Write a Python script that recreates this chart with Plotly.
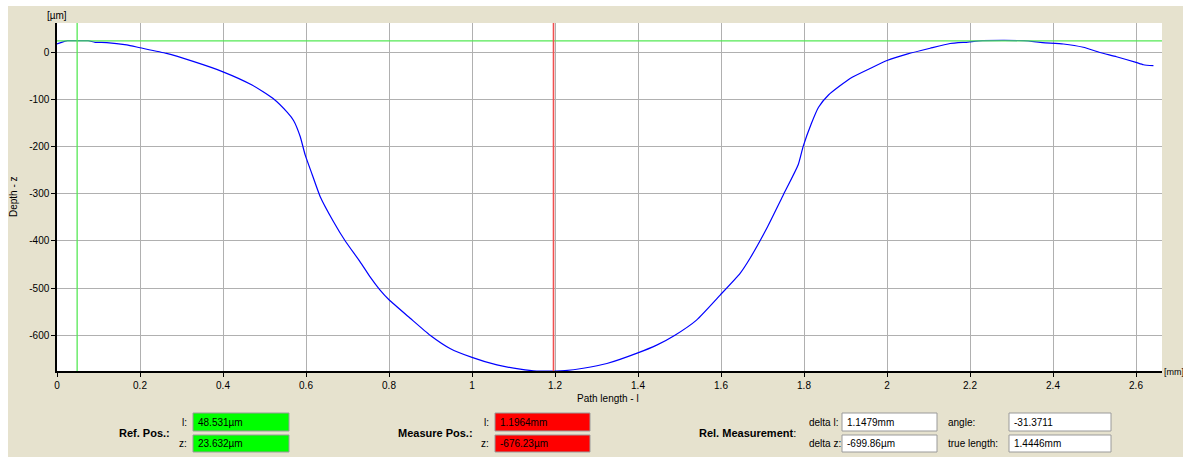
import plotly.graph_objects as go

# ---- data ----
path_length_mm = [0, 0.011, 0.025, 0.05, 0.075, 0.092, 0.12, 0.168, 0.2, 0.264, 0.328, 0.4,
                  0.47, 0.52, 0.555, 0.57, 0.586, 0.598, 0.615, 0.634, 0.666, 0.695, 0.73,
                  0.754, 0.778, 0.8, 0.851, 0.899, 0.947, 1.0, 1.06, 1.116, 1.156, 1.2, 1.224,
                  1.268, 1.325, 1.398, 1.445, 1.489, 1.541, 1.598, 1.646, 1.67, 1.71, 1.75,
                  1.786, 1.798, 1.818, 1.835, 1.859, 1.911, 1.959, 2.0, 2.05, 2.104, 2.152,
                  2.195, 2.23, 2.33, 2.375, 2.425, 2.473, 2.513, 2.553, 2.6, 2.618, 2.642]
depth_um = [17, 20.5, 24, 24, 24, 20.5, 20, 15, 9, -3, -20, -42,
            -70, -98, -128, -145, -179, -218, -260, -306, -359, -401, -444,
            -476, -504, -525, -564, -600, -628, -647, -663, -672, -676, -676, -675,
            -670, -660, -638, -621, -600, -568, -515, -469, -437, -374, -303,
            -239, -200, -151, -117, -91, -56, -35, -18, -4, 8, 18,
            21, 24, 24, 20, 17, 10, -1, -10, -22, -27, -29]

ref_l_mm = 0.048531
ref_z_um = 23.632
meas_l_mm = 1.1964

x_ticks = [0, 0.2, 0.4, 0.6, 0.8, 1, 1.2, 1.4, 1.6, 1.8, 2, 2.2, 2.4, 2.6]
x_tick_labels = ["0", "0.2", "0.4", "0.6", "0.8", "1", "1.2", "1.4", "1.6", "1.8", "2", "2.2", "2.4", "2.6"]
y_ticks = [0, -100, -200, -300, -400, -500, -600]
y_tick_labels = ["0", "-100", "-200", "-300", "-400", "-500", "-600"]

ref_fields = [("l:", "48.531µm"), ("z:", "23.632µm")]
meas_fields = [("l:", "1.1964mm"), ("z:", "-676.23µm")]
rel_fields_a = [("delta l:", "1.1479mm"), ("delta z:", "-699.86µm")]
rel_fields_b = [("angle:", "-31.3711"), ("true length:", "1.4446mm")]

# ---- layout geometry ----
W, H = 1183, 457
L, R, T, B = 57, 1162, 23, 371
BEIGE = "#E6E2CE"
FONT = "Liberation Sans"


def px(x):
    return (x - L) / (R - L)


def py(y):
    return (B - y) / (B - T)


fig = go.Figure()
fig.add_trace(go.Scatter(x=path_length_mm, y=depth_um, mode="lines",
                         line=dict(color="#0000FF", width=1.2, shape="spline", smoothing=0.5),
                         hoverinfo="skip", showlegend=False))

shapes = [
    dict(type="rect", xref="paper", yref="paper", x0=px(8), x1=px(W + 2), y0=py(H + 2), y1=py(6),
         fillcolor=BEIGE, line=dict(width=0), layer="below"),
    dict(type="rect", xref="paper", yref="paper", x0=0, x1=1, y0=0, y1=1,
         fillcolor="white", line=dict(width=0), layer="below"),
    # reference lines
    dict(type="line", xref="paper", yref="y", x0=0, x1=1, y0=ref_z_um, y1=ref_z_um,
         line=dict(color="#55E855", width=1.3)),
    dict(type="line", xref="x", yref="paper", x0=ref_l_mm, x1=ref_l_mm, y0=0, y1=1,
         line=dict(color="#55E855", width=1.3)),
    dict(type="line", xref="x", yref="paper", x0=meas_l_mm, x1=meas_l_mm, y0=0, y1=1,
         line=dict(color="#F05050", width=1.6)),
]

annotations = [
    dict(text="[µm]", x=px(57), y=py(16), xanchor="center", yanchor="middle"),
    dict(text="[mm]", x=px(1162), y=py(372), xanchor="left", yanchor="middle",
         font=dict(size=9, family=FONT, color="black")),
    dict(text="Depth - z", x=px(13), y=py(197), xanchor="center", yanchor="middle", textangle=-90),
    dict(text="Path length - l", x=px(608), y=py(398), xanchor="center", yanchor="middle"),
    dict(text="<b>Ref. Pos.:</b>", x=px(172), y=py(433), xanchor="right", yanchor="middle",
         font=dict(size=11, family=FONT, color="black")),
    dict(text="<b>Measure Pos.:</b>", x=px(475), y=py(433), xanchor="right", yanchor="middle",
         font=dict(size=11, family=FONT, color="black")),
    dict(text="<b>Rel. Measurement</b>:", x=px(798), y=py(433), xanchor="right", yanchor="middle",
         font=dict(size=11, family=FONT, color="black")),
]

rows = [(413, 431), (435, 452)]


def add_box_group(fields, label_x, label_anchor, box_x0, box_x1, fill):
    for (lab, val), (y0, y1) in zip(fields, rows):
        shapes.append(dict(type="rect", xref="paper", yref="paper",
                           x0=px(box_x0), x1=px(box_x1), y0=py(y1), y1=py(y0),
                           fillcolor=fill, line=dict(color="#9A9A9A", width=1)))
        annotations.append(dict(text=lab, x=px(label_x), y=py((y0 + y1) / 2),
                                xanchor=label_anchor, yanchor="middle"))
        annotations.append(dict(text=val, x=px(box_x0 + 3), y=py((y0 + y1) / 2),
                                xanchor="left", yanchor="middle"))


add_box_group(ref_fields, 189, "right", 193, 289, "#00FF00")
add_box_group(meas_fields, 491, "right", 495, 590, "#FF0000")
add_box_group(rel_fields_a, 807, "left", 842, 937, "white")
add_box_group(rel_fields_b, 946, "left", 1009, 1111, "white")

for a in annotations:
    a.setdefault("xref", "paper")
    a.setdefault("yref", "paper")
    a.setdefault("showarrow", False)
    a.setdefault("font", dict(size=10, family=FONT, color="black"))

fig.update_layout(
    width=W, height=H,
    margin=dict(l=L, r=W - R, t=T, b=H - B, pad=0),
    paper_bgcolor="white",
    plot_bgcolor="rgba(0,0,0,0)",
    font=dict(family=FONT, size=10, color="black"),
    shapes=shapes,
    annotations=annotations,
    showlegend=False,
)
fig.update_xaxes(range=[0, (R - L) / 415.0], tickmode="array", tickvals=x_ticks,
                 ticktext=x_tick_labels, showgrid=True, gridcolor="#B0B0B0", gridwidth=1,
                 showline=True, linecolor="black", linewidth=1.5, ticks="outside",
                 ticklen=4, tickcolor="black", zeroline=False,
                 tickfont=dict(size=10, family=FONT, color="black"))
fig.update_yaxes(range=[-(B - 52) / 0.472, (52 - T) / 0.472], tickmode="array", tickvals=y_ticks,
                 ticktext=y_tick_labels, showgrid=True, gridcolor="#B0B0B0", gridwidth=1,
                 showline=True, linecolor="black", linewidth=1.5, ticks="outside",
                 ticklen=4, tickcolor="black", zeroline=False,
                 tickfont=dict(size=10, family=FONT, color="black"))

fig.write_html("out.html")
